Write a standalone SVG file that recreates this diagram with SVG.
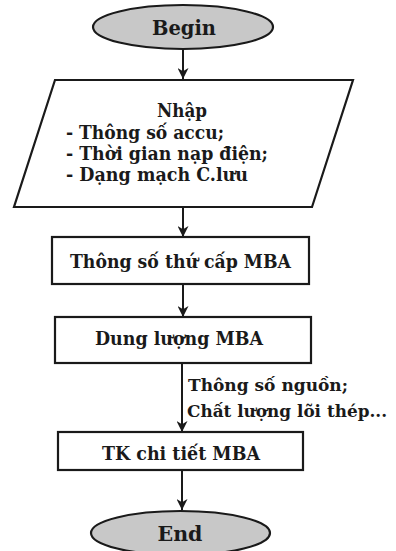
<svg xmlns="http://www.w3.org/2000/svg" width="396" height="551" viewBox="0 0 396 551">
<defs>
<style>
.shape{fill:#fff;stroke:#1a1a1a;stroke-width:2.2}
.term{fill:#c8c8c8;stroke:#1a1a1a;stroke-width:2.2}
.t{font-family:"DejaVu Serif","Liberation Serif",serif;font-weight:bold;font-size:18px;fill:#1a1a1a}
.tc{text-anchor:middle}
.big{font-size:20px}
.lbl{font-size:17px}
.conn{stroke:#1a1a1a;stroke-width:2;fill:none;marker-end:url(#arr)}
</style>
<marker id="arr" viewBox="0 0 10 10" refX="10" refY="5" markerWidth="5.5" markerHeight="5.5" orient="auto" markerUnits="strokeWidth">
<path d="M0,0 L10,5 L0,10 L3,5 Z" fill="#1a1a1a"/>
</marker>
</defs>
<rect width="396" height="551" fill="#fff"/>
<g id="connectors">
<line class="conn" x1="183" y1="49" x2="183" y2="79"/>
<line class="conn" x1="183" y1="207" x2="183" y2="237"/>
<line class="conn" x1="183" y1="284" x2="183" y2="317"/>
<line class="conn" x1="182" y1="363" x2="182" y2="432"/>
<line class="conn" x1="182" y1="470" x2="182" y2="510"/>
<text class="t lbl" x="188" y="391" textLength="160" lengthAdjust="spacingAndGlyphs">Thông số nguồn;</text>
<text class="t lbl" x="187" y="417" textLength="200" lengthAdjust="spacingAndGlyphs">Chất lượng lõi thép...</text>
</g>
<g id="begin">
<ellipse class="term" cx="183" cy="27" rx="90" ry="22"/>
<text class="t tc big" x="184" y="35" textLength="64" lengthAdjust="spacingAndGlyphs">Begin</text>
</g>
<g id="input">
<polygon class="shape" points="55,80 353,80 312,207 14,207"/>
<text class="t tc" x="182" y="117" textLength="50" lengthAdjust="spacingAndGlyphs">Nhập</text>
<text class="t" x="66" y="139" textLength="158" lengthAdjust="spacingAndGlyphs">- Thông số accu;</text>
<text class="t" x="66" y="160" textLength="202" lengthAdjust="spacingAndGlyphs">- Thời gian nạp điện;</text>
<text class="t" x="66" y="181" textLength="182" lengthAdjust="spacingAndGlyphs">- Dạng mạch C.lưu</text>
</g>
<g id="secondary">
<rect class="shape" x="52" y="237" width="257" height="47"/>
<text class="t" x="70" y="268" textLength="221" lengthAdjust="spacingAndGlyphs">Thông số thứ cấp MBA</text>
</g>
<g id="capacity">
<rect class="shape" x="55" y="317" width="256" height="46"/>
<text class="t" x="95" y="345" textLength="168" lengthAdjust="spacingAndGlyphs">Dung lượng MBA</text>
</g>
<g id="detail">
<rect class="shape" x="58" y="432" width="245" height="38"/>
<text class="t" x="102" y="460" textLength="158" lengthAdjust="spacingAndGlyphs">TK chi tiết MBA</text>
</g>
<g id="end">
<ellipse class="term" cx="180.5" cy="533" rx="89.5" ry="22"/>
<text class="t tc big" x="180" y="541" textLength="45" lengthAdjust="spacingAndGlyphs">End</text>
</g>
</svg>
